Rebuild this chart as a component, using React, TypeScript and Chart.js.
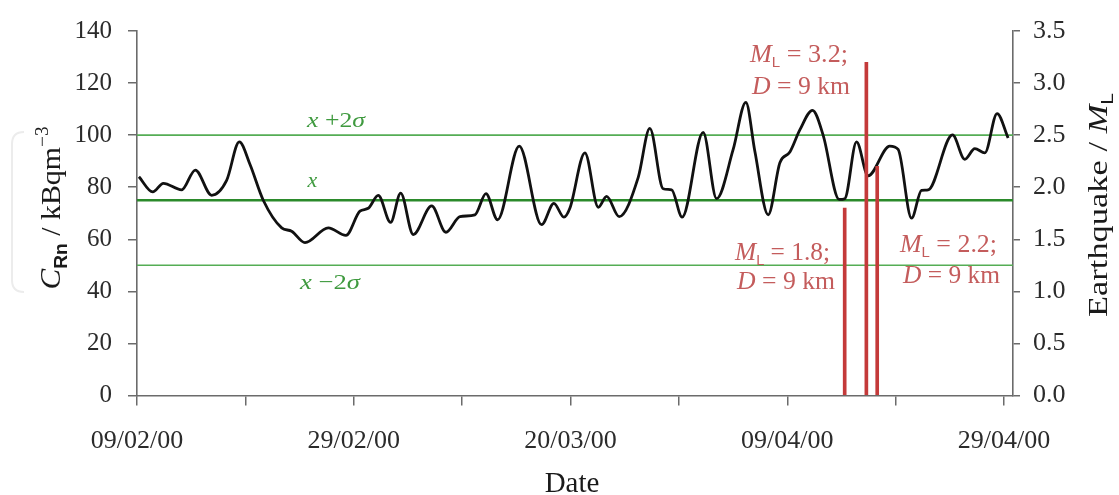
import React, { useEffect, useRef } from "react";
import { Chart, registerables } from "chart.js";

Chart.register(...registerables);

// ---------------- data ----------------
const dateLabels = ["09/02/00", "29/02/00", "20/03/00", "09/04/00", "29/04/00"];

// days after 09/02/00
const radonDays = [
  0.18, 1.45, 2.43, 4.12, 5.38, 6.89, 8.27, 9.44, 10.42, 11.65, 13.35, 14.27, 15.5, 17.65, 19.28,
  20.57, 21.34, 22.26, 23.4, 24.33, 25.49, 27.19, 28.5, 29.8, 31.18, 32.2, 33.27, 35.27, 37.33,
  38.47, 39.39, 39.94, 41.33, 42.56, 43.33, 44.49, 46.25, 47.32, 48.55, 49.33, 50.3, 52.24,
  53.48, 55.01, 56.18, 57.01, 58.24, 59.32, 60.24, 61.16, 62.33, 63.31, 64.79, 65.31, 66.39,
  67.46, 69.46, 70.23, 71.47, 72.39, 73.0, 75.25, 76.38, 77.31, 78.23, 79.36, 80.38,
];
// C_Rn, kBq m^-3
const radonValues = [
  84, 78.2, 81.5, 79, 86.6, 76.9, 82.6, 97.4, 88.8, 75, 64.4, 63.1, 58.7, 64.4, 61.5,
  70.8, 71.9, 76.9, 66.5, 77.7, 61.8, 72.8, 62.7, 68.7, 69.4, 77.5, 67.5, 95.8, 65.6,
  73.8, 68.5, 71.9, 93.2, 72.3, 76.5, 68.7, 83.8, 102.6, 79.4, 79.0, 68.5, 101.1,
  75.6, 94.5, 112.6, 93.8, 69.4, 89.4, 93.5, 102, 109.5, 100, 75.3, 75.6, 97.4,
  84.4, 95.8, 94.5, 68.1, 78.8, 79.0, 100.1, 90.7, 94.8, 93.2, 108.3, 98.9,
];

const quakeDays = [65.3, 67.3, 68.3];
const quakeMagnitudes = [1.8, 3.2, 2.2];

const meanLevel = 75;
const upperLevel = 100; // x + 2σ
const lowerLevel = 50; // x − 2σ

const dayMin = 0;
const dayMax = 80.83;

const radonTicks = [0, 20, 40, 60, 80, 100, 120, 140];
const quakeTicks = [0, 0.5, 1, 1.5, 2, 2.5, 3, 3.5];

// ---------------- styles ----------------
const SERIF = "'Liberation Serif', 'Times New Roman', serif";
const SANS = "'Liberation Sans', Arial, sans-serif";
const AXIS = "#6b6b6b";
const TICK_TEXT = "#2b2b2b";
const GREEN_THIN = "#55ad55";
const GREEN_MEAN = "#2b8a2b";
const GREEN_TEXT = "#3f9a3f";
const RED_BAR = "#c43a3a";
const RED_TEXT = "#c45c5c";

type Seg = { t: string; font: string; dy?: number };

function drawRich(
  ctx: CanvasRenderingContext2D,
  segs: Seg[],
  x: number,
  y: number,
  align: "left" | "center" | "right",
  targetWidth?: number
) {
  const widths = segs.map((s) => {
    ctx.font = s.font;
    return ctx.measureText(s.t).width;
  });
  const total = widths.reduce((a, b) => a + b, 0);
  const sx = targetWidth ? targetWidth / total : 1;
  ctx.save();
  ctx.translate(x, y);
  ctx.scale(sx, 1);
  let cx = align === "left" ? 0 : align === "center" ? -total / 2 : -total;
  ctx.textAlign = "left";
  ctx.textBaseline = "alphabetic";
  segs.forEach((s, i) => {
    ctx.font = s.font;
    ctx.fillText(s.t, cx, s.dy || 0);
    cx += widths[i];
  });
  ctx.restore();
}

const textPlugin = {
  id: "textPlugin",
  afterDraw(chart: any) {
    const ctx: CanvasRenderingContext2D = chart.ctx;
    ctx.save();

    // faint frame artifact near the left title
    ctx.strokeStyle = "#ececec";
    ctx.lineWidth = 2;
    ctx.beginPath();
    ctx.moveTo(24, 132);
    ctx.quadraticCurveTo(12, 132, 12, 144);
    ctx.lineTo(12, 280);
    ctx.quadraticCurveTo(12, 292, 24, 292);
    ctx.stroke();

    // axis titles
    ctx.fillStyle = "#1a1a1a";
    ctx.save();
    ctx.translate(60, 208);
    ctx.rotate(-Math.PI / 2);
    drawRich(
      ctx,
      [
        { t: "C", font: `italic 29px ${SERIF}` },
        { t: "Rn", font: `bold 18px ${SANS}`, dy: 7 },
        { t: " / kBqm", font: `28px ${SERIF}` },
        { t: "\u22123", font: `18px ${SERIF}`, dy: -12 },
      ],
      0,
      0,
      "center",
      163
    );
    ctx.restore();

    ctx.save();
    ctx.translate(1107, 205);
    ctx.rotate(-Math.PI / 2);
    drawRich(
      ctx,
      [
        { t: "Earthquake / ", font: `28px ${SERIF}` },
        { t: "M", font: `italic 28px ${SERIF}` },
        { t: "L", font: `17px ${SANS}`, dy: 6 },
      ],
      0,
      0,
      "center",
      224
    );
    ctx.restore();

    drawRich(ctx, [{ t: "Date", font: `29px ${SERIF}` }], 572, 492, "center");

    // statistical level labels
    ctx.fillStyle = GREEN_TEXT;
    drawRich(
      ctx,
      [
        { t: "x", font: `italic 22px ${SERIF}` },
        { t: " +2", font: `22px ${SERIF}` },
        { t: "\u03c3", font: `italic 22px ${SERIF}` },
      ],
      336,
      126.5,
      "center",
      58
    );
    drawRich(ctx, [{ t: "x", font: `italic 22px ${SERIF}` }], 312.5, 186.5, "center");
    drawRich(
      ctx,
      [
        { t: "x", font: `italic 22px ${SERIF}` },
        { t: " \u22122", font: `22px ${SERIF}` },
        { t: "\u03c3", font: `italic 22px ${SERIF}` },
      ],
      330,
      289,
      "center",
      60
    );

    // earthquake labels
    ctx.fillStyle = RED_TEXT;
    const mLabel = (mag: string): Seg[] => [
      { t: "M", font: `italic 26px ${SERIF}` },
      { t: "L", font: `15px ${SANS}`, dy: 5 },
      { t: ` = ${mag};`, font: `26px ${SERIF}` },
    ];
    const dLabel: Seg[] = [
      { t: "D", font: `italic 26px ${SERIF}` },
      { t: " = 9 km", font: `26px ${SERIF}` },
    ];
    drawRich(ctx, mLabel("3.2"), 750, 62, "left", 98);
    drawRich(ctx, dLabel, 752, 94, "left", 98);
    drawRich(ctx, mLabel("1.8"), 735, 260, "left", 95);
    drawRich(ctx, dLabel, 737, 289, "left", 98);
    drawRich(ctx, mLabel("2.2"), 900, 252, "left", 97);
    drawRich(ctx, dLabel, 903, 283, "left", 97);

    ctx.restore();
  },
};

export default function App() {
  const canvasRef = useRef<HTMLCanvasElement | null>(null);

  useEffect(() => {
    document.body.style.margin = "0";
    const canvas = canvasRef.current;
    if (!canvas) return;

    const levelLine = (v: number) => [
      { x: dayMin, y: v },
      { x: dayMax, y: v },
    ];

    const chart = new Chart(canvas, {
      type: "line",
      data: {
        datasets: [
          {
            type: "bar",
            label: "Earthquake",
            data: quakeDays.map((d, i) => ({ x: d, y: quakeMagnitudes[i] })),
            yAxisID: "y1",
            backgroundColor: RED_BAR,
            borderWidth: 0,
            barThickness: 3,
            grouped: false,
            order: 0,
          } as any,
          {
            label: "Radon",
            data: radonDays.map((d, i) => ({ x: d, y: radonValues[i] })),
            yAxisID: "y",
            borderColor: "#111111",
            borderWidth: 2.8,
            pointRadius: 0,
            fill: false,
            cubicInterpolationMode: "monotone",
            order: 1,
          },
          {
            label: "mean",
            data: levelLine(meanLevel),
            yAxisID: "y",
            borderColor: GREEN_MEAN,
            borderWidth: 2.6,
            pointRadius: 0,
            order: 2,
          },
          {
            label: "upper",
            data: levelLine(upperLevel),
            yAxisID: "y",
            borderColor: GREEN_THIN,
            borderWidth: 1.6,
            pointRadius: 0,
            order: 3,
          },
          {
            label: "lower",
            data: levelLine(lowerLevel),
            yAxisID: "y",
            borderColor: GREEN_THIN,
            borderWidth: 1.6,
            pointRadius: 0,
            order: 3,
          },
        ],
      },
      options: {
        responsive: false,
        animation: false,
        devicePixelRatio: 1,
        layout: { padding: { top: 25, left: 0, right: 0, bottom: 0 } },
        plugins: {
          legend: { display: false },
          tooltip: { enabled: false },
        },
        scales: {
          x: {
            type: "linear",
            min: dayMin,
            max: dayMax,
            offset: false,
            afterBuildTicks: (scale: any) => {
              const vals: number[] = [];
              for (let v = 0; v <= dateLabels.length * 20 - 20; v += 10) vals.push(v);
              scale.ticks = vals.map((v) => ({ value: v }));
            },
            afterFit: (scale: any) => {
              scale.height = 99.5;
            },
            ticks: {
              autoSkip: false,
              maxRotation: 0,
              minRotation: 0,
              padding: 20,
              color: TICK_TEXT,
              font: { family: SERIF, size: 26 },
              callback: (v: any) => {
                const n = Number(v);
                return n % 20 === 0 ? dateLabels[n / 20] : "";
              },
            },
            grid: {
              display: true,
              offset: false,
              drawOnChartArea: false,
              drawTicks: true,
              tickLength: 10,
              color: AXIS,
              lineWidth: 1.5,
            },
            border: { display: true, color: AXIS, width: 1.6 },
          },
          y: {
            type: "linear",
            position: "left",
            min: radonTicks[0],
            max: radonTicks[radonTicks.length - 1],
            afterBuildTicks: (scale: any) => {
              scale.ticks = radonTicks.map((v) => ({ value: v }));
            },
            afterFit: (scale: any) => {
              scale.width = 137;
            },
            ticks: {
              padding: 16,
              color: TICK_TEXT,
              font: { family: SERIF, size: 25 },
              callback: (v: any) => String(v),
            },
            grid: {
              display: true,
              drawOnChartArea: false,
              drawTicks: true,
              tickLength: 9,
              color: AXIS,
              lineWidth: 1.5,
            },
            border: { display: true, color: AXIS, width: 1.6 },
          },
          y1: {
            type: "linear",
            position: "right",
            min: quakeTicks[0],
            max: quakeTicks[quakeTicks.length - 1],
            afterBuildTicks: (scale: any) => {
              scale.ticks = quakeTicks.map((v) => ({ value: v }));
            },
            afterFit: (scale: any) => {
              scale.width = 106;
            },
            ticks: {
              padding: 13,
              color: TICK_TEXT,
              font: { family: SERIF, size: 26 },
              callback: (v: any) => Number(v).toFixed(1),
            },
            grid: {
              display: true,
              drawOnChartArea: false,
              drawTicks: true,
              tickLength: 7,
              color: AXIS,
              lineWidth: 1.5,
            },
            border: { display: true, color: AXIS, width: 1.6 },
          },
        },
      } as any,
      plugins: [textPlugin],
    });

    return () => chart.destroy();
  }, []);

  return (
    <div style={{ width: 1119, height: 495, background: "#ffffff" }}>
      <canvas ref={canvasRef} width={1119} height={495} style={{ display: "block" }} />
    </div>
  );
}
